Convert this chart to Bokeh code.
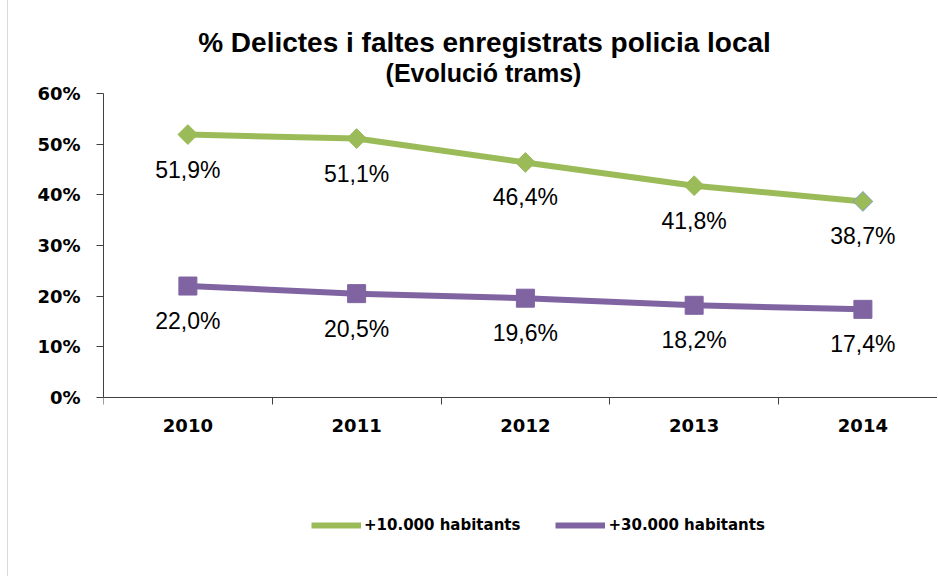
import math
from bokeh.plotting import figure
from bokeh.models import (ColumnDataSource, Range1d, FixedTicker, Label, Legend, LegendItem)
from bokeh.core.properties import value
from bokeh.embed import file_html
from bokeh.resources import INLINE

# ---- data ----
years = ["2010", "2011", "2012", "2013", "2014"]
pop10k = [51.9, 51.1, 46.4, 41.8, 38.7]
pop30k = [22.0, 20.5, 19.6, 18.2, 17.4]
y_ticks = [0, 10, 20, 30, 40, 50, 60]
y_tick_labels = ["0%", "10%", "20%", "30%", "40%", "50%", "60%"]
series_names = ["+10.000 habitants", "+30.000 habitants"]
title_text = "% Delictes i faltes enregistrats policia local"
subtitle_text = "(Evolució trams)"

# ---- styles ----
GREEN = "#9BBB59"
PURPLE = "#8064A2"
green_outline = [GREEN, GREEN, GREEN, GREEN, "#7F9FC4"]
AXIS = "#404040"

xi = list(range(len(years)))
fmt = lambda v: f"{v:.1f}".replace(".", ",") + "%"

src10 = ColumnDataSource(dict(x=xi, y=pop10k, lbl=[fmt(v) for v in pop10k], lc=green_outline))
src30 = ColumnDataSource(dict(x=xi, y=pop30k, lbl=[fmt(v) for v in pop30k]))

# frame spans (almost) the whole canvas so that titles/legend inside it are not clipped
p = figure(width=930, height=576, output_backend="svg", toolbar_location=None,
           x_range=Range1d(-0.5, 4.448), y_range=Range1d(-27.04, 78.355),
           min_border_left=95, min_border_right=0, min_border_top=0, min_border_bottom=42)
p.xgrid.visible = False
p.ygrid.visible = False
p.outline_line_color = None
p.background_fill_color = "white"
p.border_fill_color = "white"
p.styles = {"margin-left": "7px", "border-left": "1px solid #d9d9d9"}

# x axis, drawn at y = 0
xa = p.xaxis[0]
xa.fixed_location = 0
xa.ticker = FixedTicker(ticks=xi, minor_ticks=[i - 0.5 for i in xi])
xa.major_label_overrides = {i: y for i, y in zip(xi, years)}
xa.major_tick_out = 0
xa.major_tick_in = 0
xa.minor_tick_out = 7
xa.minor_tick_in = 0
xa.minor_tick_line_color = AXIS
xa.axis_line_color = AXIS
xa.major_label_text_font = "DejaVu Sans"
xa.major_label_text_font_style = "bold"
xa.major_label_text_font_size = "18px"
xa.major_label_text_color = "black"
xa.major_label_standoff = 15

# y axis, 0..60 only
ya = p.yaxis[0]
ya.bounds = (0, 60)
ya.ticker = FixedTicker(ticks=y_ticks, minor_ticks=[])
ya.major_label_overrides = {t: l for t, l in zip(y_ticks, y_tick_labels)}
ya.major_tick_out = 7
ya.major_tick_in = 0
ya.major_tick_line_color = AXIS
ya.axis_line_color = AXIS
ya.major_label_text_font = "DejaVu Sans"
ya.major_label_text_font_style = "bold"
ya.major_label_text_font_size = "18px"
ya.major_label_text_color = "black"
ya.major_label_standoff = 16

# series
l10 = p.line("x", "y", source=src10, line_color=GREEN, line_width=6, line_join="round")
s10 = p.scatter("x", "y", source=src10, marker="square", angle=math.pi / 4, size=14,
                fill_color=GREEN, line_color="lc", line_width=1)
l30 = p.line("x", "y", source=src30, line_color=PURPLE, line_width=6, line_join="round")
s30 = p.scatter("x", "y", source=src30, marker="square", size=18,
                fill_color=PURPLE, line_color=PURPLE)

for s in (src10, src30):
    p.text("x", "y", text="lbl", source=s, text_align="center", text_baseline="middle",
           y_offset=35, text_font=value("Liberation Sans"), text_font_size="23px",
           text_color="black")

# legend
legend = Legend(items=[LegendItem(label=series_names[0], renderers=[l10, s10]),
                       LegendItem(label=series_names[1], renderers=[l30, s30])],
                orientation="horizontal", location=(208, 0),
                glyph_width=50, glyph_height=10, label_height=10, label_standoff=3,
                spacing=35, padding=0, margin=0,
                border_line_color=None, background_fill_alpha=0,
                label_text_font="DejaVu Sans", label_text_font_style="bold",
                label_text_font_size="15px", label_text_color="black",
                label_text_baseline="middle")
p.add_layout(legend)

# titles
p.add_layout(Label(x=381, y=492, x_units="screen", y_units="screen", text=title_text,
                   text_align="center", text_baseline="middle", text_font="Liberation Sans",
                   text_font_style="bold", text_font_size="28px", text_color="black"))
p.add_layout(Label(x=380, y=462, x_units="screen", y_units="screen", text=subtitle_text,
                   text_align="center", text_baseline="middle", text_font="Liberation Sans",
                   text_font_style="bold", text_font_size="25px", text_color="black"))

open("out.html", "w").write(file_html(p, INLINE))
